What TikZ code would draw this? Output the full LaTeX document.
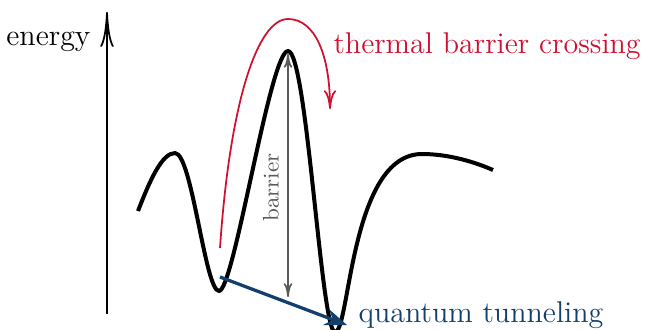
\documentclass[tikz,border=0pt]{standalone}
\usetikzlibrary{arrows.meta}

\definecolor{crossred}{RGB}{208,16,48}
\definecolor{tunnelblue}{RGB}{18,63,107}
\definecolor{barriergray}{RGB}{90,90,90}

\begin{document}
\begin{tikzpicture}[
  x=0.4pt, y=-0.4pt,
  font=\large,
  >=Stealth,
  landscape/.style={line width=1.6pt, line join=round},
  energyaxis/.style={line width=0.7pt,
    -{Computer Modern Rightarrow[length=14pt, width=5.4pt]}},
  crossing/.style={crossred, line width=0.7pt,
    -{Computer Modern Rightarrow[length=7.5pt, width=4.8pt]}},
  barrierarrow/.style={barriergray, line width=0.7pt,
    {Computer Modern Rightarrow[length=5.5pt, width=3.4pt]}-{Computer Modern Rightarrow[length=5.5pt, width=3.4pt]}},
  tunnel/.style={tunnelblue, line width=1.3pt, ->},
  lbl/.style={inner sep=0pt},
]
% Coordinate system: pixels of the sketch, y pointing down

% --- Frame ---
\useasboundingbox (0,0) rectangle (645,329);

% --- Anchor points ---
\coordinate (axisbot) at (107,314);
\coordinate (axistop) at (107,12);
\coordinate (barrtop) at (288,54);
\coordinate (barrbot) at (288,297);
\coordinate (crossstart) at (220,248);
\coordinate (crosstop) at (288,19);
\coordinate (crossend) at (330,109);
\coordinate (tunnelstart) at (220,277);
\coordinate (tunnelend) at (347,325);

% --- Energy axis ---
\draw[energyaxis] (axisbot) -- (axistop);
\node[lbl, anchor=base east] (energylabel) at (91,45) {energy};

% --- Potential landscape ---
\draw[landscape] (138,211)
  .. controls (150,180) and (162,153) .. (175,153)
  .. controls (192,153) and (205,291) .. (219,291)
  .. controls (234,291) and (270,51) .. (288,51)
  .. controls (307,51) and (321,332) .. (335,332)
  .. controls (350,332) and (350,154) .. (422,154)
  .. controls (445,154) and (470,160) .. (493,170);

% --- Barrier height ---
\draw[barrierarrow] (barrbot) -- (barrtop)
  node[pos=0.45, above, sloped, font=\small, barriergray] (barrlabel) {barrier};

% --- Thermal crossing ---
\draw[crossing] (crossstart)
  .. controls (230,100) and (258,19) .. (crosstop)
  .. controls (315,19) and (330,55) .. (crossend);
\node[lbl, anchor=base west, crossred] (crosslabel) at (333,53) {thermal barrier crossing};

% --- Tunneling ---
\draw[tunnel] (tunnelstart) -- (tunnelend);
\node[lbl, anchor=base west, tunnelblue] (tunnellabel) at (358,322) {quantum tunneling};

\end{tikzpicture}
\end{document}
